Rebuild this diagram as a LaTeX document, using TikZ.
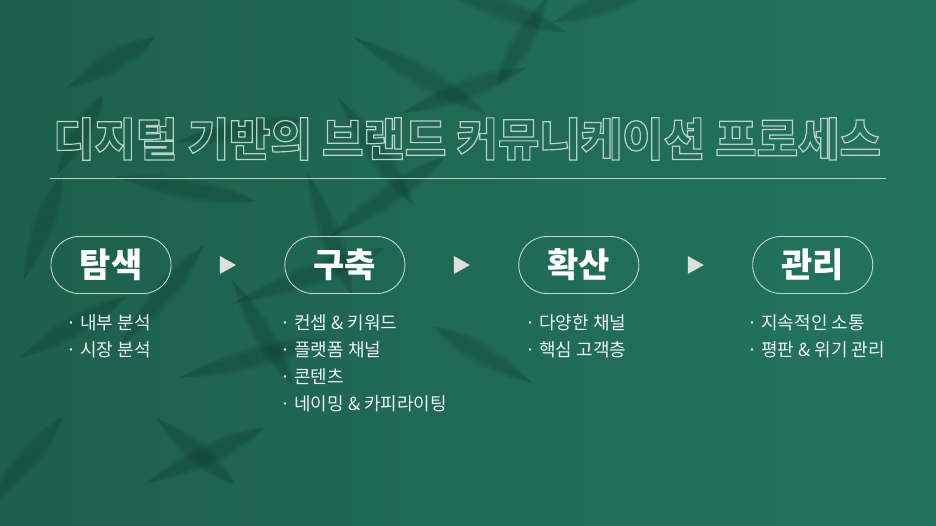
\documentclass[tikz,border=0pt]{standalone}
\usepackage{fontspec}
\newfontfamily\kr{Noto Sans CJK KR}
\usetikzlibrary{positioning,calc}

\definecolor{bggreen}{HTML}{23745D}
\definecolor{bgdark}{HTML}{1D604C}
\definecolor{pillline}{HTML}{C5D5CE}
\definecolor{titleline}{HTML}{BCD1C8}
\definecolor{tritone}{HTML}{DCE1DF}

% texto solo con contorno
\newcommand{\outlinetext}[1]{\special{pdf:literal direct 1 Tr 1.2 w}#1\special{pdf:literal direct 0 Tr}}

\tikzset{
  pill/.style={draw=pillline, line width=0.9pt, rounded corners=28pt,
    minimum width=120pt, minimum height=57pt, text=white,
    font=\kr\bfseries\fontsize{34}{34}\selectfont},
  itemlist/.style={anchor=north west, inner sep=0pt, align=left,
    text=white!92!bggreen, font=\kr\fontsize{18}{27}\selectfont},
  arrowtri/.style={fill=tritone},
  leafshade/.style={fill=black, opacity=0.045}
}

\begin{document}
\begin{tikzpicture}[x=1pt, y=-1pt]
    \useasboundingbox (0,0) rectangle (936,526);

    % fondo
    \shade[left color=bgdark, right color=bggreen] (0,0) rectangle (936,526);

    % sombras de hojas (difusas)
    \foreach \x/\y/\a/\l in {560/30/160/130, 520/70/200/120, 480/110/150/140, 440/160/215/130,
        410/200/125/120, 380/250/200/150, 350/290/110/120, 320/340/195/140,
        290/380/120/110, 260/430/205/120, 230/480/140/90, 560/20/20/110,
        500/80/60/90, 150/40/210/90, 100/100/240/80, 60/180/250/100,
        120/300/210/110, 60/420/230/110, 440/330/-30/100, 250/200/170/130,
        200/250/230/120, 300/120/190/120}{
      \begin{scope}[shift={(\x,\y)}, rotate=\a]
        \foreach \w in {18,14,10}{
          \fill[leafshade] (-6,0) .. controls (0.3*\l,\w) and (0.7*\l,0.7*\w) .. (\l+6,0)
            .. controls (0.7*\l,-0.7*\w) and (0.3*\l,-\w) .. (-6,0);
        }
      \end{scope}
    }

    % titulo
    \node[text=titleline, font=\kr\bfseries\fontsize{45}{45}\selectfont] (titulo) at (467,139)
      {\outlinetext{디지털 기반의 브랜드 커뮤니케이션 프로세스}};
    \draw[titleline, line width=0.8pt] (50,178) -- (886,178);

    % etapas
    \node[pill] (tamsaek) at (111,265) {탐색};
    \node[pill, right=113pt of tamsaek] (guchuk) {구축};
    \node[pill, right=113pt of guchuk] (hwaksan) {확산};
    \node[pill, right=113pt of hwaksan] (gwanri) {관리};

    % flechas entre etapas
    \foreach \a/\b in {tamsaek/guchuk, guchuk/hwaksan, hwaksan/gwanri}{
      \coordinate (m) at ($(\a.east)!0.5!(\b.west)$);
      \fill[arrowtri] ([shift={(-8,-9)}]m) -- ([shift={(8,0)}]m) -- ([shift={(-8,9)}]m) -- cycle;
    }

    % listas
    \node[itemlist] (lista1) at (66,314) {· 내부 분석\\· 시장 분석};
    \node[itemlist] (lista2) at (280,314) {· 컨셉 \& 키워드\\· 플랫폼 채널\\· 콘텐츠\\· 네이밍 \& 카피라이팅};
    \node[itemlist] (lista3) at (525,314) {· 다양한 채널\\· 핵심 고객층};
    \node[itemlist] (lista4) at (747,314) {· 지속적인 소통\\· 평판 \& 위기 관리};
\end{tikzpicture}
\end{document}
